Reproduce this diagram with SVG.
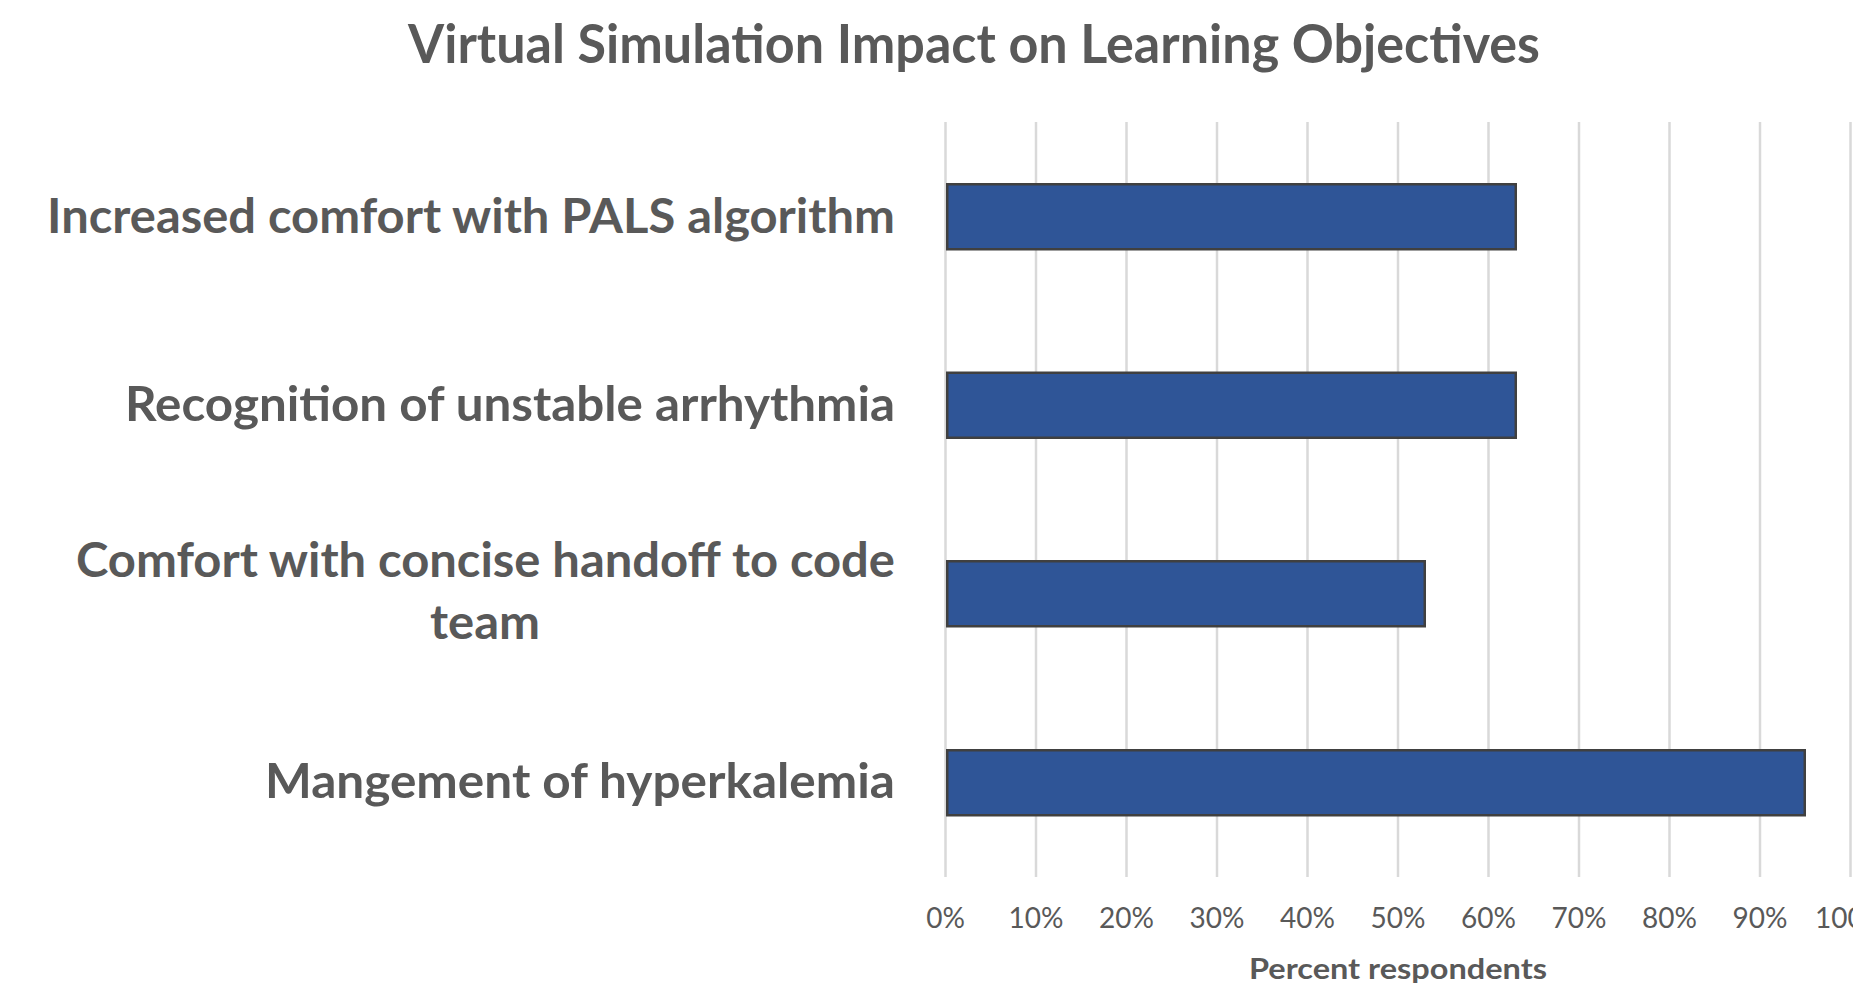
<svg xmlns="http://www.w3.org/2000/svg" width="1853" height="983" viewBox="0 0 1853 983">
<style>
.t{font-family:Lato,"Open Sans","Liberation Sans",sans-serif;fill:#595959}
.title{font-size:53px;font-weight:700}
.cat{font-size:47px;font-weight:700}
.tick{font-size:28px;font-weight:400}
.axt{font-size:29px;font-weight:700}
.grid{stroke:#D9D9D9;stroke-width:2.5}
.bar{fill:#2F5597;stroke:#404040;stroke-width:2.5}
</style>
<rect width="1853" height="983" fill="#FFFFFF"/>
<g id="title"><text class="t title" x="974" y="63" text-anchor="middle" textLength="1132" lengthAdjust="spacingAndGlyphs">Virtual Simulation Impact on Learning Objectives</text></g>
<g id="gridlines">
<line class="grid" x1="945.5" y1="122" x2="945.5" y2="877"/>
<line class="grid" x1="1036" y1="122" x2="1036" y2="877"/>
<line class="grid" x1="1126.5" y1="122" x2="1126.5" y2="877"/>
<line class="grid" x1="1217" y1="122" x2="1217" y2="877"/>
<line class="grid" x1="1307.5" y1="122" x2="1307.5" y2="877"/>
<line class="grid" x1="1398" y1="122" x2="1398" y2="877"/>
<line class="grid" x1="1488.5" y1="122" x2="1488.5" y2="877"/>
<line class="grid" x1="1579" y1="122" x2="1579" y2="877"/>
<line class="grid" x1="1669.5" y1="122" x2="1669.5" y2="877"/>
<line class="grid" x1="1760" y1="122" x2="1760" y2="877"/>
<line class="grid" x1="1850.5" y1="122" x2="1850.5" y2="877"/>
</g>
<g id="bar1"><rect class="bar" x="947.25" y="184.25" width="568.5" height="65"/></g>
<g id="bar2"><rect class="bar" x="947.25" y="372.75" width="568.5" height="65"/></g>
<g id="bar3"><rect class="bar" x="947.25" y="561.25" width="477.5" height="65"/></g>
<g id="bar4"><rect class="bar" x="947.25" y="750.25" width="857.5" height="65"/></g>
<g id="category-labels">
<text class="t cat" x="895" y="233" text-anchor="end" textLength="848" lengthAdjust="spacingAndGlyphs">Increased comfort with PALS algorithm</text>
<text class="t cat" x="895" y="421" text-anchor="end" textLength="770" lengthAdjust="spacingAndGlyphs">Recognition of unstable arrhythmia</text>
<text class="t cat" x="895" y="577" text-anchor="end" textLength="819" lengthAdjust="spacingAndGlyphs">Comfort with concise handoff to code</text>
<text class="t cat" x="485" y="639" text-anchor="middle" textLength="110" lengthAdjust="spacingAndGlyphs">team</text>
<text class="t cat" x="895" y="798" text-anchor="end" textLength="630" lengthAdjust="spacingAndGlyphs">Mangement of hyperkalemia</text>
</g>
<g id="x-axis-labels">
<text class="t tick" x="945.5" y="928" text-anchor="middle">0%</text>
<text class="t tick" x="1036" y="928" text-anchor="middle">10%</text>
<text class="t tick" x="1126.5" y="928" text-anchor="middle">20%</text>
<text class="t tick" x="1217" y="928" text-anchor="middle">30%</text>
<text class="t tick" x="1307.5" y="928" text-anchor="middle">40%</text>
<text class="t tick" x="1398" y="928" text-anchor="middle">50%</text>
<text class="t tick" x="1488.5" y="928" text-anchor="middle">60%</text>
<text class="t tick" x="1579" y="928" text-anchor="middle">70%</text>
<text class="t tick" x="1669.5" y="928" text-anchor="middle">80%</text>
<text class="t tick" x="1760" y="928" text-anchor="middle">90%</text>
<text class="t tick" x="1850.5" y="928" text-anchor="middle">100%</text>
<text class="t axt" x="1398" y="979" text-anchor="middle" textLength="298" lengthAdjust="spacingAndGlyphs">Percent respondents</text>
</g>
</svg>
